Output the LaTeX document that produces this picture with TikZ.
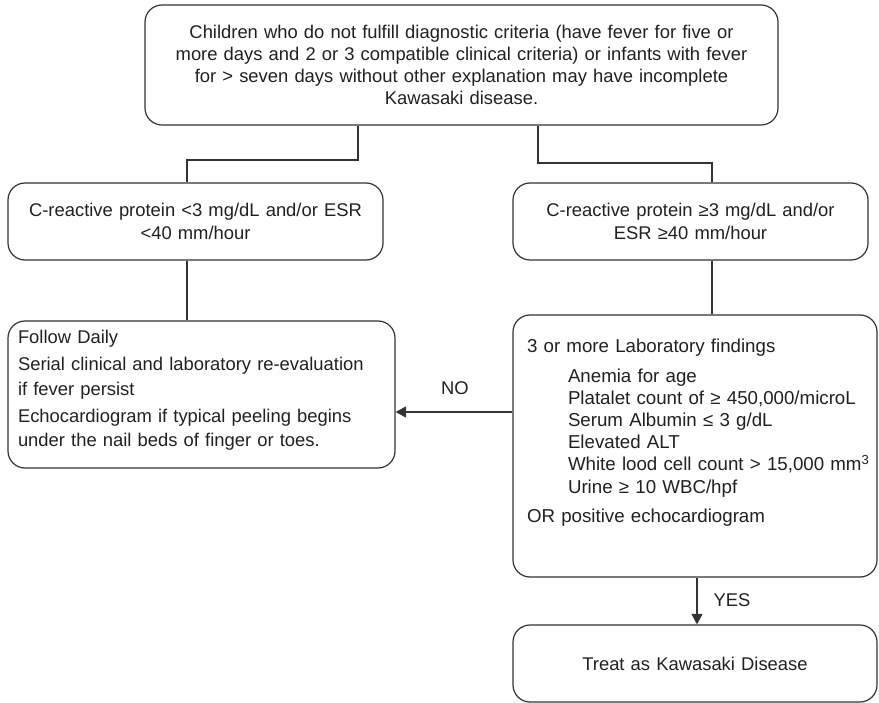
\documentclass[tikz,border=0pt]{standalone}
\usepackage{fontspec}
\setmainfont{Liberation Sans}
\usetikzlibrary{arrows.meta}
\definecolor{ink}{HTML}{231F20}
\definecolor{wire}{HTML}{333333}
\begin{document}
\begin{tikzpicture}[x=1pt,y=-1pt,
  box/.style={draw=wire, line width=1.2pt, rounded corners=17pt, text=ink, inner sep=0pt},
  link/.style={draw=wire, line width=1.2pt},
  arr/.style={link, -{Triangle[length=10.5pt,width=11pt]}},
  lbl/.style={text=ink, inner sep=0pt},
  font=\fontsize{18.4}{22.2}\selectfont]
\useasboundingbox (0,0) rectangle (879,703);

% boxes
\node[box, minimum width=633pt, minimum height=120pt, text width=620pt, align=center] (top) at (461.5,65)
  {Children who do not fulfill diagnostic criteria (have fever for five or\\
   more days and 2 or 3 compatible clinical criteria) or infants with fever\\
   for > seven days without other explanation may have incomplete\\
   Kawasaki disease.};

\node[box, minimum width=375pt, minimum height=77pt, text width=362pt, align=center] (crpL) at (195.5,221.5)
  {C-reactive protein <3 mg/dL and/or ESR\\ <40 mm/hour};

\node[box, minimum width=355pt, minimum height=77pt, text width=342pt, align=center] (crpR) at (690.5,221.5)
  {C-reactive protein ≥3 mg/dL and/or\\ ESR ≥40 mm/hour};

\node[box, minimum width=387pt, minimum height=147pt, text width=367pt, align=left,
      font=\fontsize{18.4}{24.6}\selectfont] (follow) at (201.5,394.5)
  {\setlength{\parskip}{2.5pt}Follow Daily\par
   Serial clinical and laboratory re-evaluation\\ if fever persist\par
   Echocardiogram if typical peeling begins\\ under the nail beds of finger or toes.\par
   \vspace{8.3pt}};

\node[box, minimum width=364pt, minimum height=262pt, text width=336pt, align=left,
      font=\fontsize{18.7}{22.2}\selectfont] (lab) at (695,446)
  {3 or more Laboratory findings\par
   \vspace{7.8pt}
   {\leftskip=41pt Anemia for age\\
    \mbox{Platalet count of ≥ 450,000/microL}\\
    Serum Albumin ≤ 3 g/dL\\
    Elevated ALT\\
    \mbox{White lood cell count > 15,000 mm\textsuperscript{3}}\\
    Urine ≥ 10 WBC/hpf\par}
   \vspace{6.8pt}
   OR positive echocardiogram\par
   \vspace{27.5pt}};

\node[box, minimum width=364pt, minimum height=77pt, text width=340pt, align=center] (treat) at (695,663.5)
  {Treat as Kawasaki Disease};

% branch points
\coordinate (kL) at (358,160);
\coordinate (kL2) at (187,160);
\coordinate (kR) at (538,163);
\coordinate (kR2) at (712,163);
\coordinate (noY) at (0,412);
\coordinate (yesX) at (697,0);

% connectors
\draw[link] (top.south -| kL) -- (kL) -- (kL2) -- (crpL.north -| kL2);
\draw[link] (top.south -| kR) -- (kR) -- (kR2) -- (crpR.north -| kR2);
\draw[link] (crpL.south -| kL2) -- (follow.north -| kL2);
\draw[link] (crpR.south -| kR2) -- (lab.north -| kR2);
\draw[arr] (lab.west |- noY) -- (follow.east |- noY);
\draw[arr] (lab.south -| yesX) -- (treat.north -| yesX);

% branch labels
\node[lbl] (nolbl) at (455,388) {NO};
\node[lbl] (yeslbl) at (732,600) {YES};
\end{tikzpicture}
\end{document}
